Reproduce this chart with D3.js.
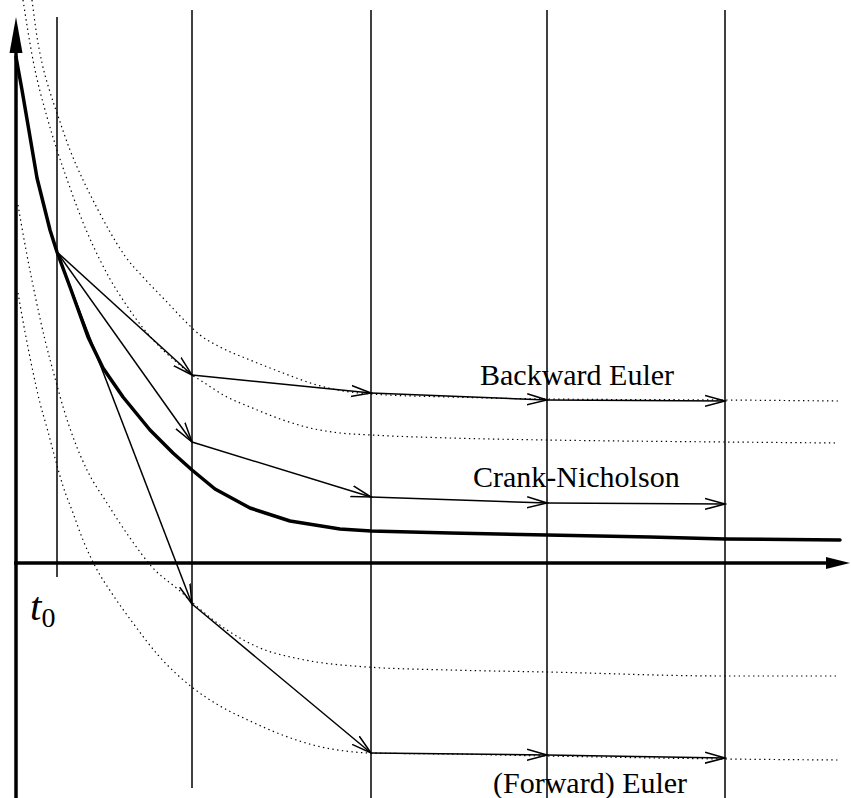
<!DOCTYPE html>
<html>
<head>
<meta charset="utf-8">
<script src="https://cdn.jsdelivr.net/npm/d3@7"></script>
<style>
  html, body { margin: 0; padding: 0; background: #fff; }
  svg { display: block; }
</style>
</head>
<body>
<svg id="chart" width="851" height="798"></svg>
<script>
// ---------- data (1 unit = one grid unit of the drawing) ----------
const gridT = [0.41, 1.76, 3.55, 5.31, 7.09];          // t0 .. t4

// exact solution (thick curve)
const exactT = [0, 0.06, 0.12, 0.21, 0.34, 0.41, 0.54, 0.72, 0.87, 1.07, 1.34, 1.57, 1.76, 1.99, 2.34, 2.74, 3.24, 3.55, 4.34, 5.31, 6.34, 7.09, 8.24];
const exactV = [5.06, 4.73, 4.38, 3.85, 3.33, 3.11, 2.76, 2.26, 1.95, 1.66, 1.33, 1.10, 0.93, 0.74, 0.55, 0.42, 0.34, 0.32, 0.30, 0.28, 0.26, 0.24, 0.23];

// numerical schemes (values at gridT)
const backwardV = [3.11, 1.88, 1.70, 1.63, 1.62];
const crankV    = [3.11, 1.21, 0.66, 0.60, 0.59];
const forwardV  = [3.11, -0.41, -1.90, -1.92, -1.95];

// neighbouring solution curves (dotted)
const solAT = [0.07, 0.17, 0.31, 0.41, 0.52, 0.61, 0.71, 0.84, 0.94, 1.09, 1.27, 1.49, 1.64, 1.76, 1.84, 2.11, 2.34, 2.67, 2.94, 3.24, 3.55, 4.34, 5.31, 7.09, 8.22];
const solAV = [5.63, 5.03, 4.46, 4.13, 3.81, 3.56, 3.31, 3.03, 2.84, 2.60, 2.35, 2.11, 1.98, 1.88, 1.83, 1.66, 1.56, 1.43, 1.35, 1.30, 1.28, 1.25, 1.23, 1.21, 1.20];

const solBT = [0.16, 0.21, 0.26, 0.34, 0.42, 0.54, 0.67, 0.81, 0.94, 1.09, 1.27, 1.49, 1.71, 1.84, 2.04, 2.34, 2.67, 3.01, 3.34, 3.55, 4.34, 5.31, 7.09, 8.22];
const solBV = [5.63, 5.26, 5.00, 4.71, 4.47, 4.13, 3.83, 3.55, 3.31, 3.07, 2.86, 2.63, 2.40, 2.28, 2.16, 2.03, 1.90, 1.78, 1.71, 1.69, 1.66, 1.64, 1.63, 1.62];

const solCT = [0.02, 0.10, 0.19, 0.29, 0.39, 0.48, 0.57, 0.71, 0.91, 1.14, 1.36, 1.64, 1.77, 2.11, 2.44, 2.84, 3.51, 4.34, 5.31, 7.09, 8.22];
const solCV = [3.58, 3.13, 2.68, 2.23, 1.85, 1.53, 1.26, 0.93, 0.60, 0.25, -0.04, -0.28, -0.40, -0.67, -0.85, -0.96, -1.04, -1.07, -1.09, -1.13, -1.13];

const solDT = [0.02, 0.09, 0.17, 0.24, 0.31, 0.39, 0.47, 0.57, 0.67, 0.79, 0.97, 1.17, 1.42, 1.77, 2.04, 2.34, 2.69, 3.01, 3.29, 3.55, 4.34, 5.31, 7.09, 8.22];
const solDV = [2.70, 2.31, 1.91, 1.60, 1.35, 1.05, 0.77, 0.50, 0.23, -0.03, -0.32, -0.60, -0.92, -1.25, -1.43, -1.58, -1.73, -1.83, -1.88, -1.90, -1.91, -1.93, -1.96, -1.97];

// ---------- drawing ----------
const svg = d3.select("#chart");
const x = d3.scaleLinear().domain([0, 8.35]).range([16, 851]);
const y = d3.scaleLinear().domain([-2.35, 5.46]).range([798, 17]);

const zip = (ts, vs) => ts.map((t, i) => [t, vs[i]]);
const lineLin = d3.line().x(d => x(d[0])).y(d => y(d[1]));
const lineSmooth = d3.line().x(d => x(d[0])).y(d => y(d[1])).curve(d3.curveMonotoneX);

// arrow marker (open V)
svg.append("defs").append("marker")
  .attr("id", "vhead")
  .attr("viewBox", "0 -7 22 14")
  .attr("refX", 20).attr("refY", 0)
  .attr("markerWidth", 22).attr("markerHeight", 14)
  .attr("markerUnits", "userSpaceOnUse")
  .attr("orient", "auto")
  .append("path")
  .attr("d", "M0,-5.5L20,0L0,5.5")
  .attr("fill", "none").attr("stroke", "#000").attr("stroke-width", 1.5);

// vertical grid lines
const gridTop    = [5.46, 5.53, 5.53, 5.53, 5.53];
const gridBottom = [-0.14, -2.25, -2.35, -2.35, -2.35];
svg.append("g").selectAll("line").data(gridT).join("line")
  .attr("x1", d => x(d)).attr("x2", d => x(d))
  .attr("y1", (d, i) => y(gridTop[i])).attr("y2", (d, i) => y(gridBottom[i]))
  .attr("stroke", "#000").attr("stroke-width", 1.5);

// dotted solution curves
const dotted = [zip(solAT, solAV), zip(solBT, solBV), zip(solCT, solCV), zip(solDT, solDV)];
svg.append("g").selectAll("path").data(dotted).join("path")
  .attr("d", lineSmooth)
  .attr("fill", "none").attr("stroke", "#000")
  .attr("stroke-width", 1.2).attr("stroke-dasharray", "1.4,3.4");

// axes
const axes = svg.append("g");
axes.append("line")
  .attr("x1", x(0)).attr("x2", x(0)).attr("y1", y(-2.35)).attr("y2", y(5.46) + 34)
  .attr("stroke", "#000").attr("stroke-width", 3.5);
axes.append("path")
  .attr("d", `M${x(0)},${y(5.46)}L${x(0) - 6.5},${y(5.46) + 36}L${x(0) + 6.5},${y(5.46) + 36}Z`)
  .attr("fill", "#000");
axes.append("line")
  .attr("x1", x(0) - 2).attr("x2", x(8.34) - 22).attr("y1", y(0)).attr("y2", y(0))
  .attr("stroke", "#000").attr("stroke-width", 3.5);
axes.append("path")
  .attr("d", `M${x(8.34)},${y(0)}L${x(8.34) - 24},${y(0) - 6}L${x(8.34) - 24},${y(0) + 6}Z`)
  .attr("fill", "#000");

// exact solution
svg.append("path")
  .attr("d", lineLin(zip(exactT, exactV)))
  .attr("fill", "none").attr("stroke", "#000")
  .attr("stroke-width", 3.5).attr("stroke-linejoin", "round").attr("stroke-linecap", "round");

// scheme arrows
const schemes = [backwardV, crankV, forwardV];
const segs = [];
schemes.forEach(vs => {
  for (let i = 0; i < vs.length - 1; i++) {
    segs.push([gridT[i], vs[i], gridT[i + 1], vs[i + 1]]);
  }
});
svg.append("g").selectAll("line").data(segs).join("line")
  .attr("x1", d => x(d[0])).attr("y1", d => y(d[1]))
  .attr("x2", d => x(d[2])).attr("y2", d => y(d[3]))
  .attr("stroke", "#000").attr("stroke-width", 1.5)
  .attr("marker-end", "url(#vhead)");

// labels
const labelFont = "'Liberation Serif', 'Times New Roman', serif";
const labels = [
  { text: "Backward Euler", t: 4.64, v: 1.78 },
  { text: "Crank-Nicholson", t: 4.57, v: 0.76 },
  { text: "(Forward) Euler", t: 4.77, v: -2.30 }
];
svg.append("g").selectAll("text").data(labels).join("text")
  .attr("x", d => x(d.t)).attr("y", d => y(d.v))
  .attr("font-family", labelFont).attr("font-size", 30)
  .attr("fill", "#000")
  .text(d => d.text);

const t0 = svg.append("text")
  .attr("x", 30).attr("y", y(-0.57))
  .attr("font-family", labelFont).attr("fill", "#000");
t0.append("tspan").attr("font-style", "italic").attr("font-size", 41).text("t");
t0.append("tspan").attr("font-size", 28).attr("dy", 7).text("0");
</script>
</body>
</html>
